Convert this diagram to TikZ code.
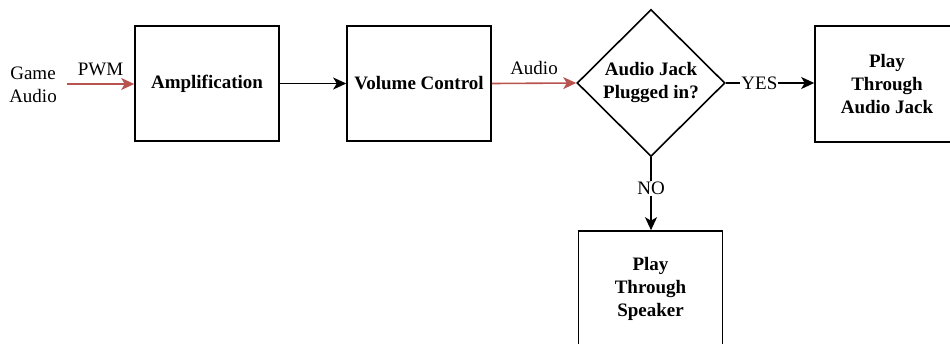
\documentclass[tikz,border=0pt]{standalone}
\usepackage{fontspec}
\setmainfont{Liberation Serif}
\usetikzlibrary{shapes.geometric,arrows.meta}
\definecolor{sigred}{HTML}{B85450}
\begin{document}
\begin{tikzpicture}[x=1pt,y=-1pt,
    every node/.style={font=\fontsize{19}{23}\selectfont},
    block/.style={draw,line width=1.6pt,minimum width=144pt,minimum height=115pt,
                  inner sep=0pt,align=center,font=\fontsize{19}{23}\selectfont\bfseries},
    decision/.style={draw,diamond,aspect=1,line width=1.6pt,minimum width=148pt,
                     minimum height=147pt,inner sep=0pt,align=center,
                     font=\fontsize{19}{23}\selectfont\bfseries},
    flow/.style={line width=1.6pt,-{Stealth[length=13pt,width=12pt,inset=3.5pt]}},
    sigflow/.style={flow,draw=sigred},
    onwire/.style={fill=white,inner sep=1pt}]
  \useasboundingbox (0,0) rectangle (950,343);
  \clip (0,0) rectangle (950,343);

  % sources and processing stages
  \node[align=center] (src) at (33,85) {Game\\Audio};
  \coordinate (srcout) at (67,84);
  \node[block] (amp) at (207,83.5) {Amplification};
  \node[block] (vol) at (419,83.5) {Volume Control};
  \node[decision] (jack) at (651,83) {Audio Jack\\Plugged in?};
  \node[block,minimum height=116pt] (viajack) at (887,84) {Play\\Through\\Audio Jack};
  \node[block] (viaspk) at (650.5,288.5) {Play\\Through\\Speaker};

  % connectors
  \draw[sigflow] (srcout) -- (amp.west |- srcout)
    node[midway,above=4pt] {PWM};
  \draw[flow] (amp.east) -- (vol.west);
  \draw[sigflow] (vol.east) -- (jack.west)
    node[midway,above=4pt] {Audio};
  \draw[flow] (jack.east) -- (viajack.west |- jack.east)
    node[pos=0.38,onwire] {YES};
  \draw[flow] (jack.south) -- (viaspk.north -| jack.south)
    node[pos=0.43,onwire] {NO};
\end{tikzpicture}
\end{document}
